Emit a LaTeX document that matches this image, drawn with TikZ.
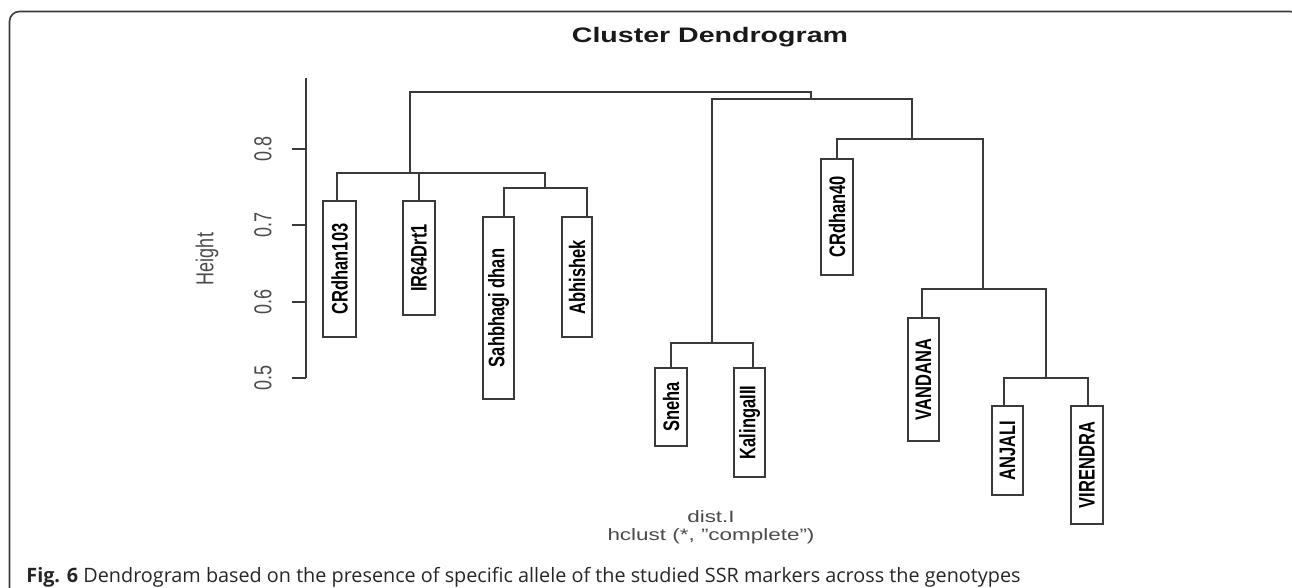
\documentclass[tikz,border=0pt]{standalone}
\usepackage{fontspec}
\setmainfont{Liberation Sans}
\newfontfamily\capfont{Open Sans}
\definecolor{lc}{HTML}{3A3A3A}
\definecolor{gt}{HTML}{4A4A4A}
\newcommand\sx[1]{\scalebox{1.36}[1]{#1}}
\newcommand\vx[1]{\scalebox{1.36}[1]{\rotatebox{90}{#1}}}
\begin{document}
\begin{tikzpicture}[x=0.5pt,y=-0.5pt,
  line/.style={draw=lc, line width=0.8pt},
  leaf/.style={draw=lc, line width=0.75pt, fill=white, inner sep=0pt, outer sep=0pt,
    font=\bfseries\fontsize{8.25}{9}\selectfont, text=black},
  axlab/.style={inner sep=0pt, text=gt, font=\fontsize{9}{10}\selectfont},
  sublab/.style={inner sep=0pt, text=gt, font=\fontsize{8.25}{9}\selectfont},
  frame/.style={draw=lc, line width=0.8pt, rounded corners=5pt}]
\useasboundingbox (0,0) rectangle (1292,588);
\begin{scope}
\clip (0,0) rectangle (1292,588);
\draw[frame] (9.5,11.5) rectangle (1300,620);
\end{scope}

% leaves: name, x1, y1, x2, y2, text
\newcommand\leafnode[6]{%
  \node[leaf, minimum width={(#4-#2)*0.5pt}, minimum height={(#5-#3)*0.5pt}]
    (#1) at ({(#2+#4)/2},{(#3+#5)/2}) {\vx{#6}};}
\leafnode{s1}{323}{201}{356}{337}{CRdhan103}
\leafnode{s2}{403}{201}{435}{315}{IR64Drt1}
\leafnode{s3}{483}{217}{514}{399}{Sahbhagi dhan}
\leafnode{s4}{562}{217}{592}{337}{Abhishek}
\leafnode{s5}{655}{368}{687}{446}{Sneha}
\leafnode{s6}{734}{368}{765}{477}{KalingaIII}
\leafnode{s7}{821}{159}{853}{275}{CRdhan40}
\leafnode{s8}{908}{318}{939}{441}{VANDANA}
\leafnode{s9}{992}{406}{1023}{495}{ANJALI}
\leafnode{s10}{1071}{406}{1103}{524}{VIRENDRA}

% merge coordinates
\coordinate (m34) at (545,188);
\coordinate (mL) at (410,173);
\coordinate (mR) at (811,99);
\coordinate (m56) at (712,343);
\coordinate (mR2) at (912,139);
\coordinate (mR3) at (983,289);
\coordinate (m910) at (1046,378);

% dendrogram branches
\draw[line] (s3.north -| 504,0) -- (504,188) -- (587,188) -- (s4.north -| 587,0);
\draw[line] (s1.north -| 337,0) -- (337,173) -- (545,173) -- (m34);
\draw[line] (s2.north -| 419,0) -- (419,173);
\draw[line] (mL) -- (410,92) -- (811,92) -- (mR);
\draw[line] (m56) -- (712,99) -- (912,99) -- (mR2);
\draw[line] (s5.north -| 671,0) -- (671,343) -- (753,343) -- (s6.north -| 753,0);
\draw[line] (s7.north -| 837,0) -- (837,139) -- (983,139) -- (mR3);
\draw[line] (s8.north -| 922,0) -- (922,289) -- (1046,289) -- (m910);
\draw[line] (s9.north -| 1004,0) -- (1004,378) -- (1088,378) -- (s10.north -| 1088,0);

% axis
\coordinate (atop) at (306,78);
\coordinate (abot) at (306,378);
\draw[line] (atop) -- (abot);
\foreach \v/\y/\n in {0.5/378/a, 0.6/302/b, 0.7/225/c, 0.8/149/d} {
  \coordinate (tk\n) at (292,\y);
  \draw[line] (tk\n) -- (306,\y);
  \node[axlab] (tl\n) at (263,\y) {\vx{\v}};
}
\node[axlab] (ylab) at (207,259) {\vx{Height}};

% titles
\node[inner sep=0pt, text=black!90, font=\bfseries\fontsize{10.5}{12}\selectfont] (title) at (710,37) {\sx{Cluster Dendrogram}};
\node[sublab] (xlab1) at (711,517) {\sx{dist.I}};
\node[sublab] (xlab2) at (711,536) {\sx{hclust (*, "complete")}};

% caption
\node[anchor=base west, inner sep=0pt, text=black!85, font=\capfont\fontsize{9.9}{11}\selectfont] (cap) at (26,582)
  {\textbf{Fig. 6} Dendrogram based on the presence of specific allele of the studied SSR markers across the genotypes};
\end{tikzpicture}
\end{document}
